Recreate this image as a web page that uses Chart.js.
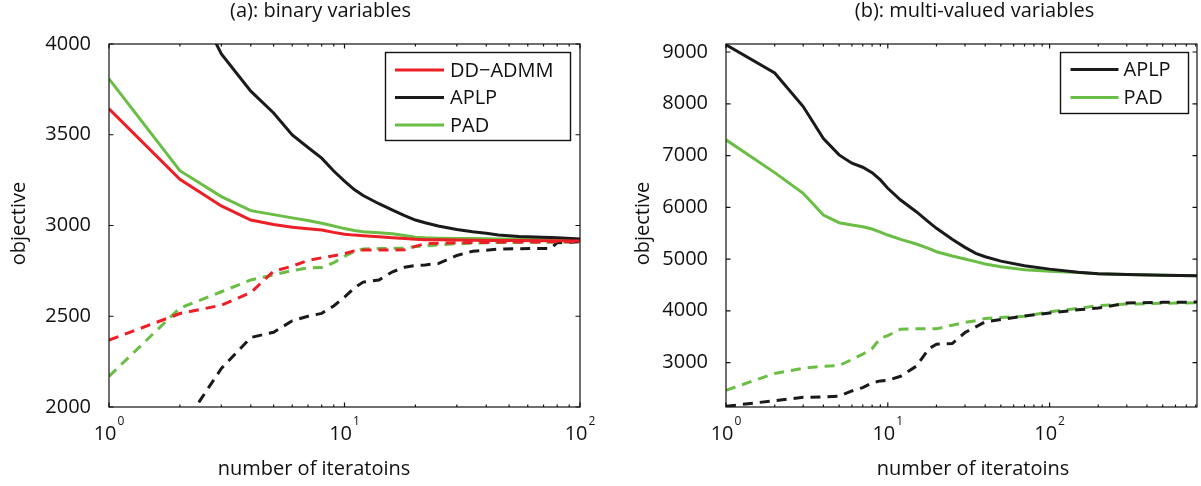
<!DOCTYPE html>
<html lang="en">
<head>
<meta charset="UTF-8">
<title>Objective vs number of iterations</title>
<script src="https://cdn.jsdelivr.net/npm/chart.js"></script>
<style>
    body { margin: 0; background: #fff; }
    .panel { position: absolute; top: 0; height: 486px; }
    #leftPanel { left: 0; width: 600px; }
    #rightPanel { left: 600px; width: 601px; }
</style>
</head>
<body>
<div class="panel" id="leftPanel"><canvas id="binaryChart"></canvas></div>
<div class="panel" id="rightPanel"><canvas id="multiChart"></canvas></div>

<script>
// (a) binary variables
const binaryIters = [1, 2, 3, 4, 5, 6, 7, 8, 9, 10, 11, 12, 14, 16, 18, 20, 22, 25, 30, 35, 40, 45, 55, 75, 80, 100];
const binaryAdmmUpper = [3643, 3255, 3108, 3030, 3005, 2990, 2982, 2975, 2962, 2952, 2947, 2944, 2938, 2932, 2928, 2924, 2922, 2921, 2920, 2919, 2918, 2918, 2917, 2916, 2916, 2915];
const binaryAplpUpper = [null, 4400, 3945, 3740, 3620, 3499, 3430, 3371, 3300, 3245, 3198, 3165, 3120, 3085, 3055, 3030, 3015, 2997, 2978, 2965, 2957, 2948, 2940, 2934, 2932, 2925];
const binaryPadUpper = [3808, 3302, 3159, 3082, 3060, 3042, 3027, 3012, 2997, 2983, 2972, 2965, 2960, 2955, 2945, 2935, 2932, 2930, 2929, 2928, 2927, 2926, 2924, 2922, 2921, 2920];
const binaryAdmmLower = [2368, 2515, 2561, 2630, 2748, 2776, 2808, 2822, 2833, 2845, 2860, 2865, 2865, 2865, 2866, 2885, 2900, 2902, 2905, 2906, 2907, 2908, 2909, 2910, 2910, 2911];
const binaryAplpLower = [null, 1870, 2212, 2383, 2412, 2475, 2500, 2516, 2557, 2605, 2655, 2688, 2700, 2745, 2770, 2780, 2783, 2790, 2835, 2858, 2864, 2870, 2872, 2874, 2905, 2910];
const binaryPadLower = [2169, 2545, 2635, 2700, 2728, 2752, 2766, 2768, 2795, 2830, 2857, 2870, 2873, 2874, 2875, 2884, 2888, 2893, 2900, 2903, 2905, 2906, 2907, 2908, 2909, 2910];
const binaryYTicks = [2000, 2500, 3000, 3500, 4000];

// (b) multi-valued variables
const multiIters = [1, 2, 3, 4, 5, 6, 7, 8, 9, 10, 12, 15, 18, 20, 25, 30, 35, 40, 50, 70, 100, 150, 200, 300, 500, 815];
const multiAplpUpper = [9140, 8594, 7947, 7330, 7012, 6852, 6774, 6670, 6529, 6368, 6141, 5915, 5710, 5594, 5381, 5226, 5110, 5045, 4960, 4870, 4805, 4744, 4718, 4699, 4686, 4679];
const multiPadUpper = [7303, 6670, 6271, 5851, 5702, 5658, 5625, 5580, 5520, 5464, 5381, 5290, 5200, 5141, 5058, 5000, 4950, 4903, 4850, 4795, 4762, 4742, 4718, 4699, 4686, 4679];
const multiAplpLower = [2154, 2264, 2329, 2335, 2348, 2451, 2516, 2606, 2645, 2658, 2735, 2929, 3271, 3354, 3367, 3580, 3690, 3787, 3832, 3900, 3956, 4020, 4053, 4150, 4163, 4169];
const multiPadLower = [2464, 2790, 2890, 2929, 2942, 3058, 3161, 3271, 3470, 3520, 3645, 3651, 3651, 3651, 3722, 3774, 3810, 3851, 3870, 3896, 3980, 4046, 4100, 4130, 4145, 4155];
const multiYTicks = [3000, 4000, 5000, 6000, 7000, 8000, 9000];

const RED = '#ED1F26', BLACK = '#1A1A1A', GREEN = '#6ABD45';
const FONT = '"Open Sans", "DejaVu Sans", sans-serif';
const LINE_W = 3;

const pts = (xs, ys) => xs.map((x, i) => ({ x, y: ys[i] }));

const line = (label, xs, ys, color, dashed) => ({
    label,
    data: pts(xs, ys),
    borderColor: color,
    backgroundColor: color,
    borderWidth: LINE_W,
    borderDash: dashed ? [10, 7] : [],
    pointRadius: 0,
    tension: 0,
    fill: false
});

// MATLAB-like frame: box, inward ticks, 10^k labels, titles, legend
const frame = {
    id: 'frame',
    afterDraw(chart, args, o) {
        const { ctx, chartArea: a, scales: { x, y } } = chart;
        ctx.save();
        ctx.strokeStyle = '#111';
        ctx.lineWidth = 1.2;
        ctx.strokeRect(a.left, a.top, a.right - a.left, a.bottom - a.top);

        ctx.beginPath();
        const p0 = Math.floor(Math.log10(x.min)), p1 = Math.ceil(Math.log10(x.max));
        for (let p = p0; p <= p1; p++) {
            for (let m = 1; m < 10; m++) {
                const v = m * Math.pow(10, p);
                if (v < x.min || v > x.max) continue;
                const px = x.getPixelForValue(v), len = m === 1 ? 4.5 : 2.5;
                ctx.moveTo(px, a.bottom); ctx.lineTo(px, a.bottom - len);
                ctx.moveTo(px, a.top); ctx.lineTo(px, a.top + len);
            }
        }
        y.ticks.forEach(t => {
            const py = y.getPixelForValue(t.value);
            ctx.moveTo(a.left, py); ctx.lineTo(a.left + 4.5, py);
            ctx.moveTo(a.right, py); ctx.lineTo(a.right - 4.5, py);
        });
        ctx.stroke();

        ctx.fillStyle = '#111';
        ctx.textBaseline = 'alphabetic';
        // decade labels 10^k
        for (let p = p0; p <= p1; p++) {
            const v = Math.pow(10, p);
            if (v < x.min || v > x.max) continue;
            ctx.font = '20px ' + FONT;
            const wb = ctx.measureText('10').width;
            ctx.font = '12px ' + FONT;
            const we = ctx.measureText(String(p)).width;
            const sx = x.getPixelForValue(v) - (wb + 1 + we) / 2;
            ctx.textAlign = 'left';
            ctx.font = '20px ' + FONT;
            ctx.fillText('10', sx, 440);
            ctx.font = '12px ' + FONT;
            ctx.fillText(String(p), sx + wb + 1, 425);
        }

        ctx.font = '20px ' + FONT;
        ctx.textAlign = 'center';
        ctx.fillText(o.title, o.titleX, 17);
        ctx.fillText(o.xTitle, o.xTitleX, 475);
        ctx.save();
        ctx.translate(o.yTitleX, 223.5);
        ctx.rotate(-Math.PI / 2);
        ctx.textBaseline = 'middle';
        ctx.fillText(o.yTitle, 0, 0);
        ctx.restore();

        // legend box
        const L = o.legend;
        ctx.fillStyle = '#fff';
        ctx.fillRect(L.left, L.top, L.right - L.left, L.bottom - L.top);
        ctx.strokeStyle = '#111';
        ctx.lineWidth = 1.4;
        ctx.strokeRect(L.left, L.top, L.right - L.left, L.bottom - L.top);
        ctx.textAlign = 'left';
        ctx.textBaseline = 'middle';
        ctx.font = '20px ' + FONT;
        L.rows.forEach((ry, i) => {
            const ds = chart.data.datasets[i];
            ctx.strokeStyle = ds.borderColor;
            ctx.lineWidth = LINE_W;
            ctx.beginPath();
            ctx.moveTo(L.lineFrom, ry); ctx.lineTo(L.lineTo, ry);
            ctx.stroke();
            ctx.fillStyle = '#111';
            ctx.fillText(ds.label, L.textX, ry + 1);
        });
        ctx.restore();
    }
};

const makeChart = (id, cfg) => new Chart(document.getElementById(id), {
    type: 'line',
    data: { datasets: cfg.datasets },
    options: {
        responsive: true,
        maintainAspectRatio: false,
        animation: false,
        layout: { padding: { top: 44, right: cfg.padRight, bottom: 0, left: 0 } },
        plugins: {
            legend: { display: false },
            tooltip: { enabled: false },
            frame: cfg.frame
        },
        scales: {
            x: {
                type: 'logarithmic',
                min: 1,
                max: cfg.xMax,
                ticks: { display: false },
                grid: { display: false },
                border: { display: false },
                afterFit: s => { s.height = 79; }
            },
            y: {
                type: 'linear',
                min: cfg.yMin,
                max: cfg.yMax,
                afterBuildTicks: s => { s.ticks = cfg.yTicks.map(v => ({ value: v })); },
                ticks: {
                    padding: 10,
                    color: '#111',
                    font: { family: FONT, size: 20 },
                    callback: v => String(v)
                },
                grid: { display: false },
                border: { display: false },
                afterFit: s => { s.width = cfg.yWidth; }
            }
        }
    },
    plugins: [frame]
});

makeChart('binaryChart', {
    datasets: [
        line('DD\u2212ADMM', binaryIters, binaryAdmmUpper, RED, false),
        line('APLP', binaryIters, binaryAplpUpper, BLACK, false),
        line('PAD', binaryIters, binaryPadUpper, GREEN, false),
        line('DD\u2212ADMM lower', binaryIters, binaryAdmmLower, RED, true),
        line('APLP lower', binaryIters, binaryAplpLower, BLACK, true),
        line('PAD lower', binaryIters, binaryPadLower, GREEN, true)
    ],
    xMax: 100, yMin: 2000, yMax: 4000, yTicks: binaryYTicks,
    yWidth: 109, padRight: 20,
    frame: {
        title: '(a): binary variables', titleX: 320.5,
        xTitle: 'number of iteratoins', xTitleX: 314,
        yTitle: 'objective', yTitleX: 19,
        legend: { left: 385.5, right: 570.5, top: 52.5, bottom: 140.5, lineFrom: 395, lineTo: 444, textX: 450, rows: [70, 97.5, 125] }
    }
});

makeChart('multiChart', {
    datasets: [
        line('APLP', multiIters, multiAplpUpper, BLACK, false),
        line('PAD', multiIters, multiPadUpper, GREEN, false),
        line('APLP lower', multiIters, multiAplpLower, BLACK, true),
        line('PAD lower', multiIters, multiPadLower, GREEN, true)
    ],
    xMax: 815, yMin: 2141, yMax: 9155, yTicks: multiYTicks,
    yWidth: 126, padRight: 4,
    frame: {
        title: '(b): multi-valued variables', titleX: 374.5,
        xTitle: 'number of iteratoins', xTitleX: 373,
        yTitle: 'objective', yTitleX: 43,
        legend: { left: 460.5, right: 588.5, top: 52.5, bottom: 113.5, lineFrom: 470.5, lineTo: 518.5, textX: 523.5, rows: [69.5, 97.5] }
    }
});
</script>
</body>
</html>
